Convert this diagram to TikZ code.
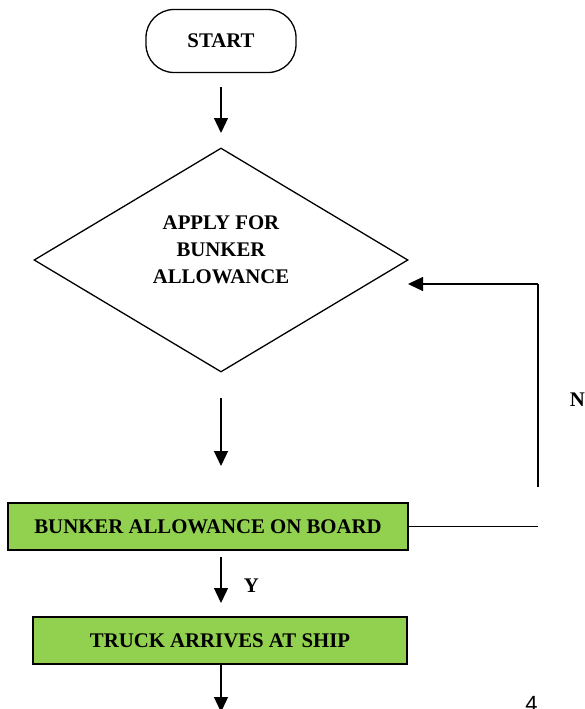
\documentclass[tikz,border=0pt]{standalone}
\usepackage{fontspec}
\setmainfont{Liberation Serif}
\newfontfamily\pagenofont{Liberation Sans}
\usetikzlibrary{shapes.geometric,arrows.meta}

\begin{document}
\begin{tikzpicture}[x=1pt,y=-1pt,line width=1.3pt,
every node/.style = {
align          = center,
text           = black,
font           = \bfseries\fontsize{20.8}{27}\selectfont},
startbox/.style = {
shape          = rectangle,
draw,
rounded corners= 28pt,
minimum width  = 150pt,
minimum height = 63pt},
decisionbox/.style = {
shape          = diamond,
draw,
minimum width  = 374pt,
minimum height = 224pt},
greenbox/.style = {
shape          = rectangle,
draw,
fill           = boxgreen,
minimum height = 47pt},
flow arrow/.style = {
-{Triangle[length=15pt,width=14pt]}},
plain edge/.style = { -}
]
\definecolor{boxgreen}{HTML}{92D050}
\useasboundingbox (0,0) rectangle (584,709);
%
\node[startbox] (start) at (221,41) {START};
\node[decisionbox] (apply) at (221,260) {};
\node (applytext) at (221,250) {APPLY FOR\\BUNKER\\ALLOWANCE};
\node[greenbox,minimum width=400pt] (onboard) at (208,526.5) {BUNKER ALLOWANCE ON BOARD};
\node[greenbox,minimum width=374pt] (truck) at (220,640.5) {TRUCK ARRIVES AT SHIP};
%
\coordinate (belowstart) at (221,87);
\coordinate (aboveapply) at (221,133);
\coordinate (belowapply) at (221,398);
\coordinate (aboveboard) at (221,466);
\coordinate (belowboard) at (221,557);
\coordinate (abovetruck) at (221,603);
\coordinate (loopright) at (538,527);
\coordinate (loopbottom) at (538,487);
\coordinate (looptop) at (538,284);
\coordinate (looptip) at (408,284);
\coordinate (belowtruck) at (221,712);
%
\draw[flow arrow] (belowstart) -- (aboveapply);
\draw[flow arrow] (belowapply) -- (aboveboard);
\draw[plain edge] (onboard.east) -- (onboard.east -| loopright);
\draw[plain edge] (loopbottom) -- (looptop);
\draw[flow arrow] (looptop) -- (looptip);
\draw[flow arrow] (belowboard) -- (abovetruck);
\draw[flow arrow] (truck.south -| belowtruck) -- (belowtruck);
%
\node[anchor=west] (ylabel) at (240,586) {Y};
\node[anchor=west] (nolabel) at (566,399.5) {N};
\node[anchor=base,font=\pagenofont\fontsize{22}{24}\selectfont] (pageno) at (531.5,711) {4};
%
\end{tikzpicture}
\end{document}
